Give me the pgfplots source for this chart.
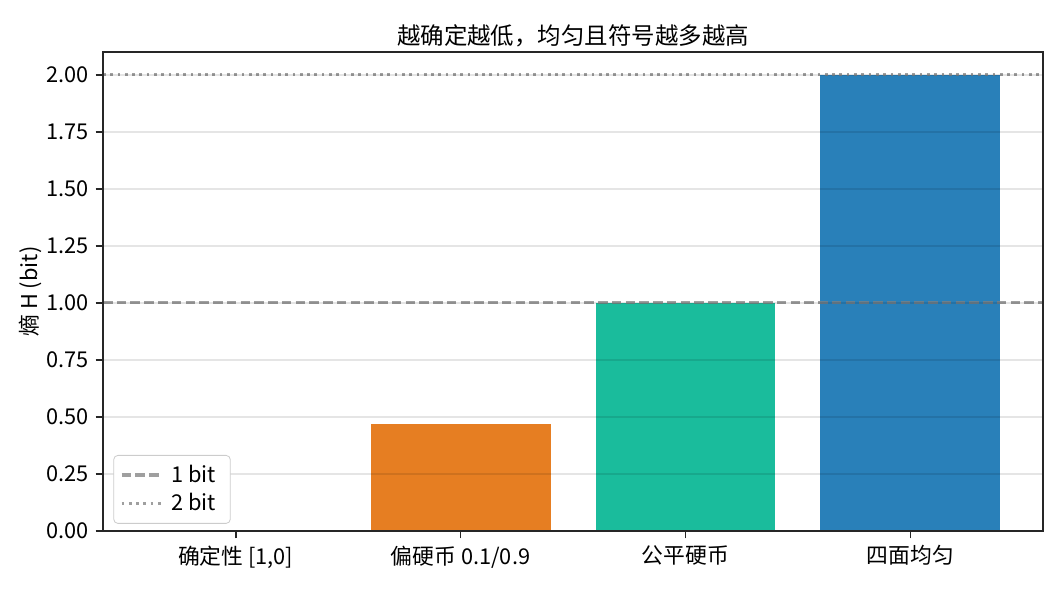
\documentclass[border=0pt]{standalone}
\usepackage{fontspec}
\setmainfont{Noto Sans CJK SC}
\usepackage{pgfplots}
\pgfplotsset{compat=1.18}

\definecolor{c0}{HTML}{E74C3C}
\definecolor{c1}{HTML}{E67E22}
\definecolor{c2}{HTML}{1ABC9C}
\definecolor{c3}{HTML}{2980B9}
\definecolor{spine}{HTML}{262626}

\begin{document}
\begin{tikzpicture}[x=0.48bp,y=0.48bp]
\begin{axis}[
    scale only axis,
    width=451.2bp, height=229.9bp,
    xmin=-0.59, xmax=3.59,
    ymin=0, ymax=2.1,
    xtick={0,1,2,3},
    xticklabels={确定性 [1{,}0], 偏硬币 0.1/0.9, 公平硬币, 四面均匀},
    ytick={0,0.25,0.5,0.75,1,1.25,1.5,1.75,2},
    yticklabel style={/pgf/number format/.cd, fixed, fixed zerofill, precision=2},
    /pgf/number format/assume math mode=true,
    tick label style={font=\fontsize{10.5}{12}\selectfont},
    xtick pos=bottom, ytick pos=left,
    tick align=outside,
    major tick length=3.5bp,
    every tick/.style={spine, line width=0.8bp},
    axis line style={spine, line width=0.8bp},
    ymajorgrids,
    grid style={black, opacity=0.1, line width=0.8bp},
    axis on top,
    title={越确定越低，均匀且符号越多越高},
    title style={font=\fontsize{11.3}{14}\selectfont, yshift=-7bp},
    ylabel={熵 H (bit)},
    ylabel style={font=\fontsize{10.5}{12}\selectfont, yshift=-5bp},
    legend style={font=\fontsize{10.5}{12}\selectfont, draw=black!20, rounded corners=2bp,
        at={(0.011,0.015)}, anchor=south west, inner xsep=3bp, inner ysep=2.5bp,
        row sep=0bp, nodes={inner xsep=4bp, inner ysep=2bp}},
    legend image code/.code={\draw[#1] (0bp,0bp) -- (19bp,0bp);},
    legend cell align=left,
]
\addplot[ybar, bar width=0.8, bar shift=0pt, fill=c0, draw=none, forget plot] coordinates {(0,0)};
\addplot[ybar, bar width=0.8, bar shift=0pt, fill=c1, draw=none, forget plot] coordinates {(1,0.469)};
\addplot[ybar, bar width=0.8, bar shift=0pt, fill=c2, draw=none, forget plot] coordinates {(2,1.0)};
\addplot[ybar, bar width=0.8, bar shift=0pt, fill=c3, draw=none, forget plot] coordinates {(3,2.0)};
\addplot[gray, opacity=0.75, line width=1.5bp, dash pattern=on 4.6bp off 2bp] coordinates {(-0.59,1) (3.59,1)};
\addlegendentry{1 bit}
\addplot[gray, opacity=0.75, line width=1.5bp, dash pattern=on 1.3bp off 2.2bp] coordinates {(-0.59,2) (3.59,2)};
\addlegendentry{2 bit}
\end{axis}
\useasboundingbox (current axis.south west) ++(-103,-57) rectangle ++(1064,588);
\end{tikzpicture}
\end{document}
